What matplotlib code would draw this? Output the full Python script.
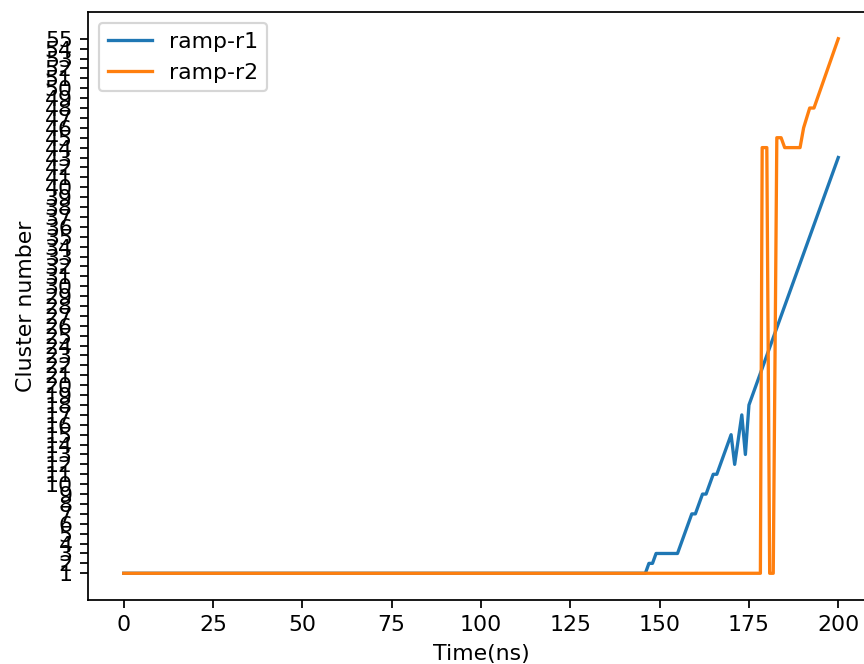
import matplotlib.pyplot as plt

# values (time in ns, cluster number)
t_r1 = [0, 146, 147, 148, 149, 155, 159, 160, 162, 163, 165, 166, 170, 171, 173, 174, 175, 200]
c_r1 = [1, 1, 2, 2, 3, 3, 7, 7, 9, 9, 11, 11, 15, 12, 17, 13, 18, 43]

t_r2 = [0, 178.2, 178.7, 180.0, 180.8, 181.8, 182.8, 184.0, 185.0, 189.3, 190.3, 192.0, 193.2, 200]
c_r2 = [1, 1, 44, 44, 1, 1, 45, 45, 44, 44, 46, 48, 48, 55]

cluster_ticks = list(range(1, 56))

dpi = 158
fig = plt.figure(figsize=(864 / dpi, 664 / dpi), dpi=dpi)
ax = fig.add_axes([88 / 864, 64 / 664, 786 / 864, 588 / 664])

ax.plot(t_r1, c_r1, label='ramp-r1')
ax.plot(t_r2, c_r2, label='ramp-r2')

ax.set_yticks(cluster_ticks)
ax.set_yticklabels([str(v) for v in cluster_ticks])
ax.set_xticks([0, 25, 50, 75, 100, 125, 150, 175, 200])

ax.set_xlabel('Time(ns)')
ax.set_ylabel('Cluster number')
ax.legend(loc='upper left')

plt.savefig('out.png', dpi=dpi)
